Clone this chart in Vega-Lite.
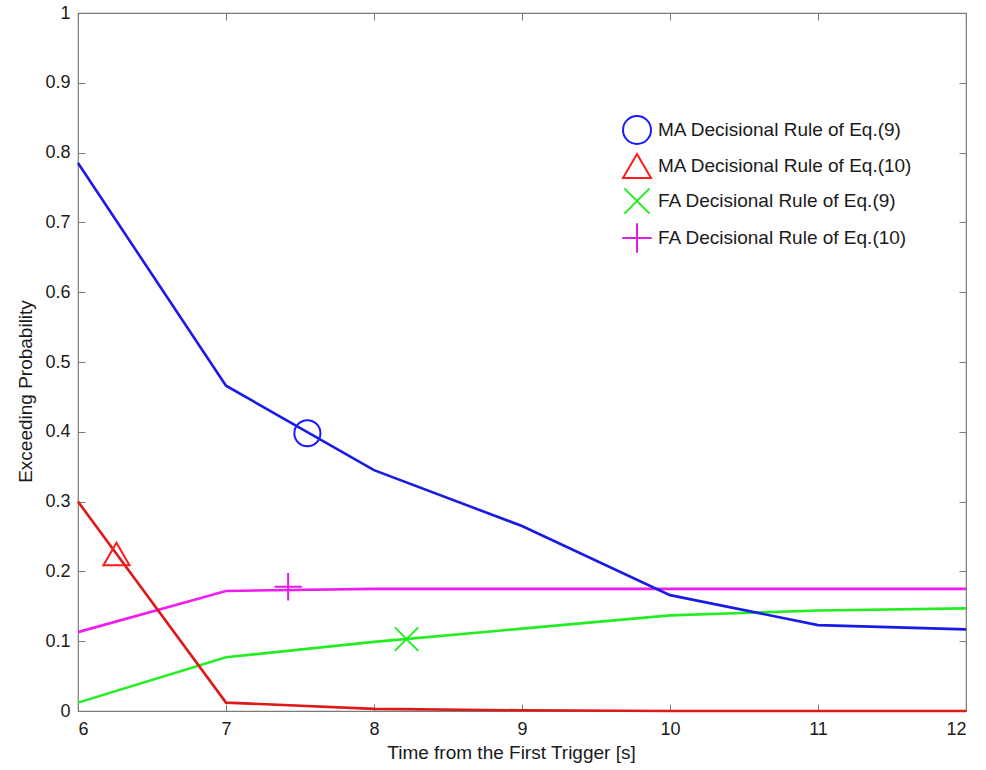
{
  "$schema": "https://vega.github.io/schema/vega-lite/v6.json",
  "autosize": "none",
  "width": 888,
  "height": 698,
  "padding": {"left": 78, "top": 13, "right": 20, "bottom": 59},
  "background": "white",
  "config": {
    "font": "Liberation Sans",
    "view": {"stroke": "#7a7a7a", "strokeWidth": 1.2},
    "axis": {"grid": false, "domain": false, "tickColor": "#7a7a7a", "labelColor": "#1a1a1a", "titleColor": "#1a1a1a", "labelFont": "Liberation Sans", "titleFont": "Liberation Sans", "labelFontSize": 18, "titleFontSize": 19, "titleFontWeight": "normal", "labelFontWeight": "normal"}
  },
  "datasets": {
    "lines": [
      {"series": "MA Decisional Rule of Eq.(9)", "t": 6, "p": 0.785},
      {"series": "MA Decisional Rule of Eq.(9)", "t": 7, "p": 0.466},
      {"series": "MA Decisional Rule of Eq.(9)", "t": 8, "p": 0.345},
      {"series": "MA Decisional Rule of Eq.(9)", "t": 9, "p": 0.265},
      {"series": "MA Decisional Rule of Eq.(9)", "t": 10, "p": 0.166},
      {"series": "MA Decisional Rule of Eq.(9)", "t": 11, "p": 0.123},
      {"series": "MA Decisional Rule of Eq.(9)", "t": 12, "p": 0.117},
      {"series": "MA Decisional Rule of Eq.(10)", "t": 6, "p": 0.300},
      {"series": "MA Decisional Rule of Eq.(10)", "t": 7, "p": 0.012},
      {"series": "MA Decisional Rule of Eq.(10)", "t": 8, "p": 0.003},
      {"series": "MA Decisional Rule of Eq.(10)", "t": 9, "p": 0.001},
      {"series": "MA Decisional Rule of Eq.(10)", "t": 10, "p": 0.0},
      {"series": "MA Decisional Rule of Eq.(10)", "t": 11, "p": 0.0},
      {"series": "MA Decisional Rule of Eq.(10)", "t": 12, "p": 0.0},
      {"series": "FA Decisional Rule of Eq.(9)", "t": 6, "p": 0.012},
      {"series": "FA Decisional Rule of Eq.(9)", "t": 7, "p": 0.077},
      {"series": "FA Decisional Rule of Eq.(9)", "t": 8, "p": 0.099},
      {"series": "FA Decisional Rule of Eq.(9)", "t": 9, "p": 0.118},
      {"series": "FA Decisional Rule of Eq.(9)", "t": 10, "p": 0.137},
      {"series": "FA Decisional Rule of Eq.(9)", "t": 11, "p": 0.144},
      {"series": "FA Decisional Rule of Eq.(9)", "t": 12, "p": 0.147},
      {"series": "FA Decisional Rule of Eq.(10)", "t": 6, "p": 0.113},
      {"series": "FA Decisional Rule of Eq.(10)", "t": 7, "p": 0.172},
      {"series": "FA Decisional Rule of Eq.(10)", "t": 8, "p": 0.175},
      {"series": "FA Decisional Rule of Eq.(10)", "t": 9, "p": 0.175},
      {"series": "FA Decisional Rule of Eq.(10)", "t": 10, "p": 0.175},
      {"series": "FA Decisional Rule of Eq.(10)", "t": 11, "p": 0.175},
      {"series": "FA Decisional Rule of Eq.(10)", "t": 12, "p": 0.175}
    ],
    "markers": [
      {"series": "MA Decisional Rule of Eq.(9)", "t": 7.55, "p": 0.398},
      {"series": "MA Decisional Rule of Eq.(10)", "t": 6.26, "p": 0.225},
      {"series": "FA Decisional Rule of Eq.(9)", "t": 8.22, "p": 0.103},
      {"series": "FA Decisional Rule of Eq.(10)", "t": 7.42, "p": 0.178}
    ]
  },
  "layer": [
    {
      "data": {"name": "lines"},
      "transform": [{"filter": "datum.series == 'FA Decisional Rule of Eq.(10)'"}],
      "mark": {"type": "line", "strokeWidth": 2.6, "color": "#f01cf0"},
      "encoding": {
        "x": {"field": "t", "type": "quantitative", "scale": {"domain": [6, 12], "nice": false, "zero": false}, "axis": {"orient": "bottom", "values": [6, 7, 8, 9, 10, 11, 12], "tickSize": -7, "labelPadding": 16, "title": "Time from the First Trigger [s]", "titlePadding": 5, "titleX": 433}},
        "y": {"field": "p", "type": "quantitative", "scale": {"domain": [0, 1], "nice": false}, "axis": {"orient": "left", "values": [0, 0.1, 0.2, 0.3, 0.4, 0.5, 0.6, 0.7, 0.8, 0.9, 1], "format": "~g", "tickSize": -7, "labelPadding": 15, "title": "Exceeding Probability", "titlePadding": 9, "titleY": 378}},
        "order": {"field": "t", "type": "quantitative"}
      }
    },
    {
      "data": {"name": "lines"},
      "transform": [{"filter": "datum.series == 'FA Decisional Rule of Eq.(9)'"}],
      "mark": {"type": "line", "strokeWidth": 2.6, "color": "#22ee22"},
      "encoding": {
        "x": {"field": "t", "type": "quantitative", "axis": null},
        "y": {"field": "p", "type": "quantitative", "axis": null},
        "order": {"field": "t", "type": "quantitative"}
      }
    },
    {
      "data": {"name": "lines"},
      "transform": [{"filter": "datum.series == 'MA Decisional Rule of Eq.(9)'"}],
      "mark": {"type": "line", "strokeWidth": 2.6, "color": "#1a1ae6"},
      "encoding": {
        "x": {"field": "t", "type": "quantitative", "axis": null},
        "y": {"field": "p", "type": "quantitative", "axis": null},
        "order": {"field": "t", "type": "quantitative"}
      }
    },
    {
      "data": {"name": "lines"},
      "transform": [{"filter": "datum.series == 'MA Decisional Rule of Eq.(10)'"}],
      "mark": {"type": "line", "strokeWidth": 2.6, "color": "#dd1a1a"},
      "encoding": {
        "x": {"field": "t", "type": "quantitative", "axis": null},
        "y": {"field": "p", "type": "quantitative", "axis": null},
        "order": {"field": "t", "type": "quantitative"}
      }
    },
    {
      "data": {"name": "markers"},
      "mark": {"type": "point", "filled": false, "strokeWidth": 2, "size": 680, "opacity": 1},
      "encoding": {
        "x": {"field": "t", "type": "quantitative", "axis": {"orient": "top", "values": [6, 7, 8, 9, 10, 11, 12], "tickSize": -7, "labels": false, "title": null}},
        "y": {"field": "p", "type": "quantitative", "axis": {"orient": "right", "values": [0, 0.1, 0.2, 0.3, 0.4, 0.5, 0.6, 0.7, 0.8, 0.9, 1], "tickSize": -7, "labels": false, "title": null}},
        "color": {"field": "series", "type": "nominal", "scale": {"domain": ["MA Decisional Rule of Eq.(9)", "MA Decisional Rule of Eq.(10)", "FA Decisional Rule of Eq.(9)", "FA Decisional Rule of Eq.(10)"], "range": ["#1a1aff", "#ff1a1a", "#22ee22", "#e01ce0"]}, "legend": {"orient": "none", "legendX": 544, "legendY": 102, "title": null, "labelFontSize": 19, "labelColor": "#1a1a1a", "labelFont": "Liberation Sans", "labelLimit": 400, "symbolSize": 784, "symbolStrokeWidth": 2, "rowPadding": 1, "labelOffset": 6, "symbolFillColor": "transparent"}},
        "shape": {"field": "series", "type": "nominal", "scale": {"domain": ["MA Decisional Rule of Eq.(9)", "MA Decisional Rule of Eq.(10)", "FA Decisional Rule of Eq.(9)", "FA Decisional Rule of Eq.(10)"], "range": ["circle", "triangle-up", "M-0.9,-0.9L0.9,0.9M0.9,-0.9L-0.9,0.9", "M-1.05,0L1.05,0M0,-1.05L0,1.05"]}, "legend": {"orient": "none", "legendX": 544, "legendY": 102, "title": null, "labelFontSize": 19, "labelColor": "#1a1a1a", "labelFont": "Liberation Sans", "labelLimit": 400, "symbolSize": 784, "symbolStrokeWidth": 2, "rowPadding": 1, "labelOffset": 6, "symbolFillColor": "transparent"}}
      }
    }
  ],
  "resolve": {"axis": {"x": "independent", "y": "independent"}}
}
